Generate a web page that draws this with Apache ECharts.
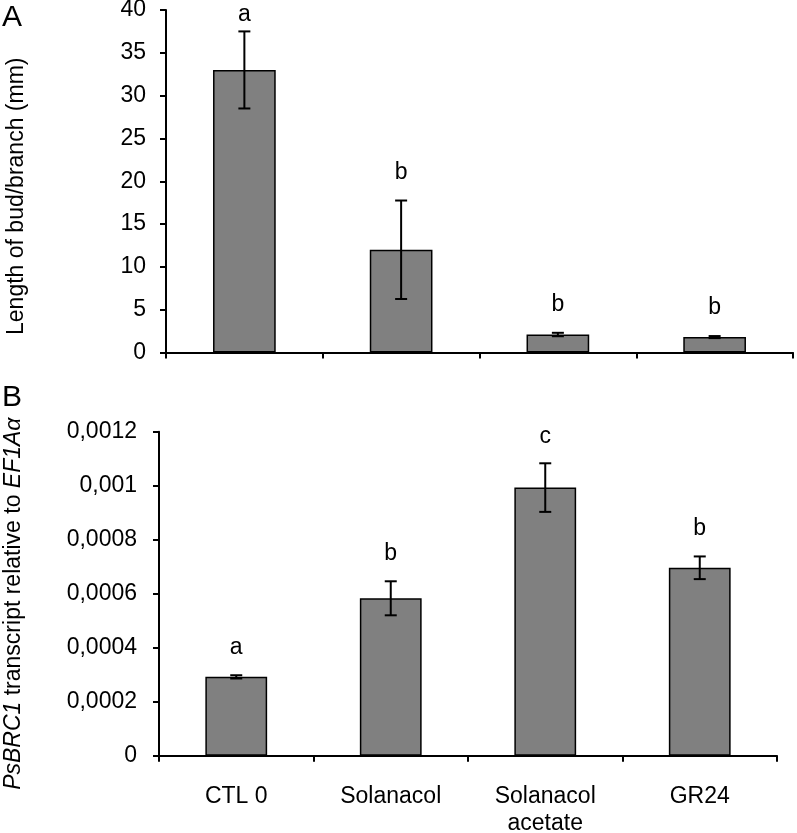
<!DOCTYPE html>
<html>
<head>
<meta charset="utf-8">
<script src="https://cdn.jsdelivr.net/npm/echarts@6/dist/echarts.min.js"></script>
<style>html,body{margin:0;padding:0;background:#fff;}#c{width:797px;height:833px;}</style>
</head>
<body>
<div id="c"></div>
<script>
var categories = ['CTL 0', 'Solanacol', 'Solanacol\nacetate', 'GR24'];
var lengthMeans = [33.0, 12.0, 2.1, 1.8];
var lengthErrors = [4.5, 5.75, 0.2, 0.12];
var lengthLetters = ['a', 'b', 'b', 'b'];
var brcMeans = [0.000292, 0.000583, 0.000993, 0.000696];
var brcErrors = [0.000006, 0.000063, 0.00009, 0.000042];
var brcLetters = ['a', 'b', 'c', 'b'];
var yTicksA = ['0', '5', '10', '15', '20', '25', '30', '35', '40'];
var yTicksB = ['0', '0,0002', '0,0004', '0,0006', '0,0008', '0,001', '0,0012'];

var FONT = '"Liberation Sans", Arial, sans-serif';
var FS = 23;
var chart = echarts.init(document.getElementById('c'), null, {renderer: 'canvas'});

function errData(means, errs, letters) {
  return means.map(function (m, i) { return [i, m, errs[i], letters[i]]; });
}

function errRender(gridTop) {
  return function (params, api) {
    var x = api.value(0), m = api.value(1), e = api.value(2);
    var letter = api.value(3);
    var hi = api.coord([x, m + e]);
    var lo = api.coord([x, m - e]);
    var cap = 6;
    var ly = Math.max(hi[1] - 28, gridTop + 5);
    return {
      type: 'group',
      children: [
        {type: 'line', shape: {x1: hi[0], y1: hi[1], x2: lo[0], y2: lo[1]}, style: {stroke: '#000', lineWidth: 2}},
        {type: 'line', shape: {x1: hi[0] - cap, y1: hi[1], x2: hi[0] + cap, y2: hi[1]}, style: {stroke: '#000', lineWidth: 2}},
        {type: 'line', shape: {x1: lo[0] - cap, y1: lo[1], x2: lo[0] + cap, y2: lo[1]}, style: {stroke: '#000', lineWidth: 2}},
        {type: 'text', style: {text: letter, x: hi[0], y: ly, textAlign: 'center', textVerticalAlign: 'middle', font: FS + 'px ' + FONT, fill: '#000'}}
      ]
    };
  };
}

var axisLineStyle = {show: true, lineStyle: {color: '#000', width: 2}};
var axisTickStyle = {show: true, length: 6, lineStyle: {color: '#000', width: 2}};

var option = {
  animation: false,
  backgroundColor: '#fff',
  textStyle: {fontFamily: FONT},
  grid: [
    {left: 166, right: 4, top: 10, height: 342.5, containLabel: false, outerBoundsMode: 'none'},
    {left: 159, right: 20, top: 431.7, height: 324, containLabel: false, outerBoundsMode: 'none'}
  ],
  xAxis: [
    {type: 'category', gridIndex: 0, data: categories, boundaryGap: true,
     axisLine: axisLineStyle, axisTick: axisTickStyle, axisLabel: {show: false}, splitLine: {show: false}},
    {type: 'category', gridIndex: 1, data: categories, boundaryGap: true,
     axisLine: axisLineStyle, axisTick: axisTickStyle,
     axisLabel: {show: true, color: '#000', fontSize: FS, fontFamily: FONT, margin: 27, lineHeight: 27, interval: 0},
     splitLine: {show: false}}
  ],
  yAxis: [
    {type: 'value', gridIndex: 0, min: 0, max: 40, interval: 5,
     axisLine: axisLineStyle, axisTick: axisTickStyle, splitLine: {show: false},
     axisLabel: {color: '#000', fontSize: FS, fontFamily: FONT, margin: 20,
       formatter: function (v) { return yTicksA[Math.round(v / 5)]; }},
     name: 'Length of bud/branch (mm)', nameLocation: 'middle', nameGap: 138,
     nameTextStyle: {color: '#000', fontSize: FS, fontFamily: FONT, padding: [0, 30, 0, 0]}},
    {type: 'value', gridIndex: 1, min: 0, max: 0.0012, interval: 0.0002,
     axisLine: axisLineStyle, axisTick: axisTickStyle, splitLine: {show: false},
     axisLabel: {color: '#000', fontSize: FS, fontFamily: FONT, margin: 22,
       formatter: function (v) { return yTicksB[Math.round(v / 0.0002)]; }},
     name: '{i|PsBRC1}{n| transcript relative to }{i|EF1Aα}', nameLocation: 'middle', nameGap: 134,
     nameTextStyle: {color: '#000', fontSize: FS, fontFamily: FONT, padding: [0, 20, 0, 0],
       rich: {i: {fontStyle: 'italic', fontSize: FS, fontFamily: FONT, color: '#000'},
              n: {fontSize: FS, fontFamily: FONT, color: '#000'}}}}
  ],
  graphic: [
    {type: 'text', left: 2, top: 3, style: {text: 'A', font: '30px ' + FONT, fill: '#000'}},
    {type: 'text', left: 2, top: 383, style: {text: 'B', font: '30px ' + FONT, fill: '#000'}}
  ],
  series: [
    {type: 'bar', xAxisIndex: 0, yAxisIndex: 0, data: lengthMeans, barWidth: '40%',
     itemStyle: {color: '#808080', borderColor: '#000', borderWidth: 1.5}},
    {type: 'custom', xAxisIndex: 0, yAxisIndex: 0, data: errData(lengthMeans, lengthErrors, lengthLetters),
     renderItem: errRender(10), z: 5},
    {type: 'bar', xAxisIndex: 1, yAxisIndex: 1, data: brcMeans, barWidth: '40%',
     itemStyle: {color: '#808080', borderColor: '#000', borderWidth: 1.5}},
    {type: 'custom', xAxisIndex: 1, yAxisIndex: 1, data: errData(brcMeans, brcErrors, brcLetters),
     renderItem: errRender(431.7), z: 5}
  ]
};
chart.setOption(option);
</script>
</body>
</html>
